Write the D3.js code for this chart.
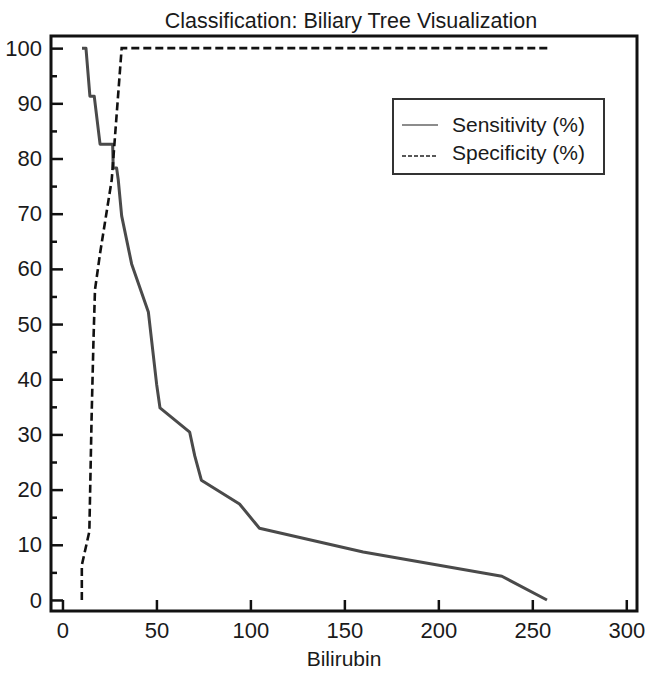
<!DOCTYPE html>
<html>
<head>
<meta charset="utf-8">
<script src="https://cdn.jsdelivr.net/npm/d3@7"></script>
<style>
  body { margin: 0; background: #fff; }
  text { font-family: "Liberation Sans", Arial, sans-serif; fill: #1a1a1a; }
</style>
</head>
<body>
<div id="chart"></div>
<script>
// values
var sensX = [10.4, 12.5, 14.6, 16.9, 20.0, 26.7, 27.0, 28.8, 29.7, 31.5, 36.8, 45.7, 50.1, 51.9, 67.7, 70.4, 73.9, 94.2, 104.8, 160, 233.8, 257.8];
var sensY = [100, 100, 91.3, 91.3, 82.6, 82.6, 78.3, 78.3, 76.1, 69.6, 60.9, 52.2, 39.1, 34.8, 30.4, 26.1, 21.7, 17.4, 13.0, 8.7, 4.3, 0];
var specX = [10.3, 10.3, 14.3, 15.5, 16.5, 17.3, 20.0, 26.2, 31.5, 258.5];
var specY = [0, 6.3, 12.4, 33, 47, 56.2, 62.8, 76.1, 100, 100];
var xTicks = [0, 50, 100, 150, 200, 250, 300];
var yTicks = [0, 10, 20, 30, 40, 50, 60, 70, 80, 90, 100];
var yMinor = [5, 15, 25, 35, 45, 55, 65, 75, 85, 95];
var seriesNames = ["Sensitivity (%)", "Specificity (%)"];

var W = 646, H = 674;
var margin = {top: 36, right: 9, bottom: 63, left: 51},
    width = W - margin.left - margin.right,
    height = H - margin.top - margin.bottom;

var svg = d3.select("#chart").append("svg")
    .attr("width", W)
    .attr("height", H);

svg.append("text")
    .attr("x", 351)
    .attr("y", 28)
    .attr("text-anchor", "middle")
    .style("font-size", "21.5px")
    .text("Classification: Biliary Tree Visualization");

var g = svg.append("g")
    .attr("transform", "translate(" + margin.left + "," + margin.top + ")");

var x = d3.scaleLinear().domain([-6.1, 305.7]).range([0, width]),
    y = d3.scaleLinear().domain([-2.0, 102.2]).range([height, 0]);

g.append("g")
    .attr("transform", "translate(0," + height + ")")
    .call(d3.axisBottom(x).tickValues(xTicks).tickSize(-11).tickPadding(11));

g.append("g")
    .call(d3.axisLeft(y).tickValues(yTicks).tickSize(-12).tickPadding(9));

g.append("g")
    .call(d3.axisLeft(y).tickValues(yMinor).tickSize(-6).tickFormat(""));

g.selectAll(".domain").remove();
g.selectAll(".tick line").attr("stroke", "#111").attr("stroke-width", 2.5);
g.selectAll(".tick text").style("font-size", "22px").attr("fill", "#1a1a1a");

var line = d3.line()
    .x(function(d) { return x(d[0]); })
    .y(function(d) { return y(d[1]); });

var sens = sensX.map(function(v, i) { return [v, sensY[i]]; });
var spec = specX.map(function(v, i) { return [v, specY[i]]; });

g.append("path")
    .datum(sens)
    .attr("fill", "none")
    .attr("stroke", "#4a4a4a")
    .attr("stroke-width", 3)
    .attr("stroke-linejoin", "round")
    .attr("d", line);

g.append("path")
    .datum(spec)
    .attr("fill", "none")
    .attr("stroke", "#111")
    .attr("stroke-width", 2.6)
    .attr("stroke-dasharray", "8,4")
    .attr("d", line);

// frame
g.append("rect")
    .attr("x", 0)
    .attr("y", 0)
    .attr("width", width)
    .attr("height", height)
    .attr("fill", "none")
    .attr("stroke", "#111")
    .attr("stroke-width", 3);

svg.append("text")
    .attr("x", margin.left + width / 2)
    .attr("y", 666)
    .attr("text-anchor", "middle")
    .style("font-size", "21px")
    .text("Bilirubin");

// legend
var leg = svg.append("g").attr("transform", "translate(393,99)");
leg.append("rect")
    .attr("width", 211)
    .attr("height", 75)
    .attr("fill", "#fff")
    .attr("stroke", "#333")
    .attr("stroke-width", 2);
leg.append("line")
    .attr("x1", 9).attr("x2", 45).attr("y1", 26).attr("y2", 26)
    .attr("stroke", "#666").attr("stroke-width", 1.6);
leg.append("line")
    .attr("x1", 9).attr("x2", 45).attr("y1", 57).attr("y2", 57)
    .attr("stroke", "#222").attr("stroke-width", 1.6)
    .attr("stroke-dasharray", "4,2");
leg.selectAll("text.lab")
    .data(seriesNames)
    .enter().append("text")
    .attr("class", "lab")
    .attr("x", 59)
    .attr("y", function(d, i) { return 33 + i * 27.5; })
    .style("font-size", "21px")
    .text(function(d) { return d; });
</script>
</body>
</html>
